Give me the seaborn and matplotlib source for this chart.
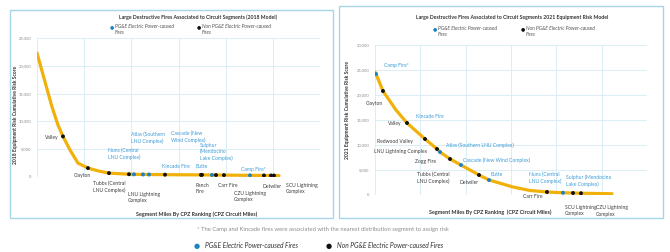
import matplotlib
matplotlib.use("Agg")
import matplotlib.pyplot as plt
from matplotlib.patches import Rectangle
import seaborn as sns
import pandas as pd

# ---- data ----
# 2018 model: cumulative risk curve
curve18_x = [0, 170, 318, 445, 551, 700, 869, 1081, 1293, 1526, 1950, 2056, 2247, 2374,
             2714, 3477, 3498, 3710, 3795, 3964, 4516, 4812, 4961, 5024, 5130]
curve18_y = [22300, 17100, 12600, 9350, 7300, 4850, 2500, 1600, 1100, 700, 500, 480, 460, 450,
             420, 380, 380, 360, 350, 340, 300, 280, 270, 265, 250]
fires18_x = [551, 1081, 1526, 1950, 2056, 2247, 2374, 2714, 3477, 3498, 3710, 3795, 3964,
             4516, 4812, 4961, 5024]
fires18_y = [7300, 1600, 700, 500, 480, 460, 450, 420, 380, 380, 360, 350, 340,
             300, 280, 270, 265]
fires18_cause = ["Non", "Non", "Non", "Non", "PGE", "PGE", "PGE", "Non", "Non", "Non", "PGE", "Non", "Non",
                 "PGE", "Non", "Non", "Non"]

# 2021 model
curve21_x = [0, 22, 176, 463, 706, 1103, 1368, 1434, 1655, 1897, 2294, 2515, 3044, 3419, 3794,
             4147, 4368, 4544, 5228]
curve21_y = [24600, 24200, 20800, 17000, 14400, 11200, 9200, 8600, 7200, 6000, 4000, 3000, 1600, 900, 600,
             450, 400, 350, 250]
fires21_x = [22, 176, 706, 1103, 1368, 1434, 1655, 1897, 2294, 2515, 3794, 4147, 4368, 4544]
fires21_y = [24200, 20800, 14400, 11200, 9200, 8600, 7200, 6000, 4000, 3000, 600, 450, 400, 350]
fires21_cause = ["PGE", "Non", "Non", "Non", "Non", "PGE", "Non", "PGE", "Non", "PGE", "Non", "PGE", "Non", "Non"]

# labels: (text, x, y, ha, cause)
labels18 = [
    ("Valley", 466, 7194, "right", "Non"),
    ("Clayton", 784, 180, "left", "Non"),
    ("Tubbs (Central\nLNU Complex)", 1187, -1709, "left", "Non"),
    ("LNU Lightning\nComplex", 1929, -3687, "left", "Non"),
    ("Nuns (Central\nLNU Complex)", 1505, 4137, "left", "PGE"),
    ("Atlas (Southern\nLNU Complex)", 1993, 7104, "left", "PGE"),
    ("Cascade (New\nWind Complex)", 2841, 7284, "left", "PGE"),
    ("Sulphur\n(Mendocino\nLake Complex)", 3456, 4496, "left", "PGE"),
    ("Kincade Fire", 2650, 1799, "left", "PGE"),
    ("Butte", 3371, 1799, "left", "PGE"),
    ("Ranch\nFire", 3350, -2068, "left", "Non"),
    ("Carr Fire", 3837, -1439, "left", "Non"),
    ("CZU Lightning\nComplex", 4176, -3507, "left", "Non"),
    ("Camp Fire*", 4325, 1259, "left", "PGE"),
    ("Detwiler", 4791, -1619, "left", "Non"),
    ("SCU Lightning\nComplex", 5279, -2068, "left", "Non"),
]
labels21 = [
    ("Camp Fire*", 199, 25800, "left", "PGE"),
    ("Clayton", -11, 18400, "center", "Non"),
    ("Kincade Fire", 904, 15800, "left", "PGE"),
    ("Valley", 596, 14400, "right", "Non"),
    ("Redwood Valley", 838, 10800, "right", "Non"),
    ("LNU Lightning Complex", 1147, 8600, "right", "Non"),
    ("Atlas (Southern LNU Complex)", 1566, 10000, "left", "PGE"),
    ("Zogg Fire", 1346, 6600, "right", "Non"),
    ("Cascade (New Wind Complex)", 1941, 7000, "left", "PGE"),
    ("Tubbs (Central\nLNU Complex)", 927, 3500, "left", "Non"),
    ("Detwiler", 1853, 2400, "left", "Non"),
    ("Butte", 2537, 4200, "left", "PGE"),
    ("Nuns (Central\nLNU Complex)", 3397, 3500, "left", "PGE"),
    ("Sulphur (Mendocino\nLake Complex)", 4214, 2800, "left", "PGE"),
    ("Carr Fire", 3265, -400, "left", "Non"),
    ("SCU Lightning\nComplex", 4191, -3100, "left", "Non"),
    ("CZU Lightning\nComplex", 4875, -3200, "left", "Non"),
]

CURVE = "#f2b10a"
DOT = {"PGE": "#1c82c4", "Non": "#111111"}
TXT = {"PGE": "#3b9ad6", "Non": "#3d3d3d"}
GRID = "#d6ebf4"
BORDER = "#a6d6e6"

sns.set_theme(style="white")
plt.rcParams["font.family"] = ["Lato", "DejaVu Sans"]

W, H = 670, 252
fig = plt.figure(figsize=(W / 100, H / 100), dpi=100)


def fx(px):
    return px / W


def fy(py):
    return 1 - py / H


# panel borders
fig.patches.append(Rectangle((fx(10), fy(218)), fx(323), 208 / H, transform=fig.transFigure,
                             fill=False, edgecolor=BORDER, linewidth=1.0))
fig.patches.append(Rectangle((fx(339), fy(218)), fx(324), 212 / H, transform=fig.transFigure,
                             fill=False, edgecolor=BORDER, linewidth=1.0))


def draw_panel(ax, cx, cy, fx_, fy_, cause, labels, ymax):
    sns.lineplot(x=cx, y=cy, ax=ax, color=CURVE, linewidth=2.3, sort=False, zorder=2)
    df = pd.DataFrame({"x": fx_, "y": fy_, "cause": cause})
    sns.scatterplot(data=df, x="x", y="y", hue="cause", palette=DOT, s=8, linewidth=0,
                    ax=ax, legend=False, zorder=3)
    ax.set_xlim(0, 6000)
    ax.set_ylim(0, ymax)
    ax.set_xticks(range(0, 6001, 1000))
    ax.set_yticks(range(0, ymax + 1, 5000))
    ax.set_yticklabels([f"{v:,}" for v in range(0, ymax + 1, 5000)])
    ax.set_xticklabels([])
    ax.tick_params(axis="y", labelsize=3, colors="#8a8a8a", length=0, pad=4)
    ax.tick_params(axis="x", length=0)
    ax.grid(True, color=GRID, linewidth=0.6)
    for s in ax.spines.values():
        s.set_visible(False)
    ax.set_xlabel("")
    ax.set_ylabel("")
    for text, x, y, ha, c in labels:
        ax.text(x, y, text, ha=ha, va="center", fontsize=3.6, color=TXT[c],
                linespacing=1.3, clip_on=False, zorder=4)


ax1 = fig.add_axes([fx(37), fy(177), (320 - 37) / W, (177 - 38) / H])
draw_panel(ax1, curve18_x, curve18_y, fires18_x, fires18_y, fires18_cause, labels18, 25000)
ax2 = fig.add_axes([fx(375), fy(195), (647 - 375) / W, (195 - 45) / H])
draw_panel(ax2, curve21_x, curve21_y, fires21_x, fires21_y, fires21_cause, labels21, 30000)

# titles, axis labels
fig.text(fx(198), fy(17), "Large Destructive Fires Associated to Circuit Segments (2018 Model)",
         ha="center", va="center", fontsize=3.7, fontweight="bold", color="#333333")
fig.text(fx(512), fy(17), "Large Destructive Fires Associated to Circuit Segments 2021 Equipment Risk Model",
         ha="center", va="center", fontsize=3.7, fontweight="bold", color="#333333")
fig.text(fx(197), fy(214), "Segment Miles By CPZ Ranking (CPZ Circuit Miles)",
         ha="center", va="center", fontsize=3.9, fontweight="bold", color="#333333")
fig.text(fx(490), fy(212), "Segment Miles By CPZ Ranking  (CPZ Circuit Miles)",
         ha="center", va="center", fontsize=3.9, fontweight="bold", color="#333333")
fig.text(fx(16), fy(115), "2018 Equipment Risk Cumulative Risk Score", rotation=90,
         ha="center", va="center", fontsize=3.6, fontweight="bold", color="#333333")
fig.text(fx(347), fy(110), "2021 Equipment Risk Cumulative Risk Score", rotation=90,
         ha="center", va="center", fontsize=3.6, fontweight="bold", color="#333333")

# in-panel legends
for px, py, c, txt in [(112, 27, "PGE", "PG&E Electric Power-caused\nFires"),
                       (199, 27, "Non", "Non PG&E Electric Power-caused\nFires"),
                       (435, 29, "PGE", "PG&E Electric Power-caused\nFires"),
                       (523, 29, "Non", "Non PG&E Electric Power-caused\nFires")]:
    fig.text(fx(px), fy(py), "\u25cf", ha="center", va="center", fontsize=3.5, color=DOT[c],
             family="DejaVu Sans")
    fig.text(fx(px + 3), fy(py - 3), txt, ha="left", va="top", fontsize=3.6, style="italic",
             color="#555555", linespacing=1.3)

# footnote and bottom legend
fig.text(fx(323), fy(230), "* The Camp and Kincade fires were associated with the nearest distribution segment to assign risk",
         ha="center", va="center", fontsize=4.2, color="#8c8c8c")
for px, c, txt in [(197, "PGE", "PG&E Electric Power-caused Fires"),
                   (329, "Non", "Non PG&E Electric Power-caused Fires")]:
    fig.text(fx(px), fy(246), "\u25cf", ha="center", va="center", fontsize=5, color=DOT[c],
             family="DejaVu Sans")
    fig.text(fx(px + 8), fy(246), txt, ha="left", va="center", fontsize=4.8, style="italic",
             color="#333333")

fig.savefig("out.png", dpi=100)
